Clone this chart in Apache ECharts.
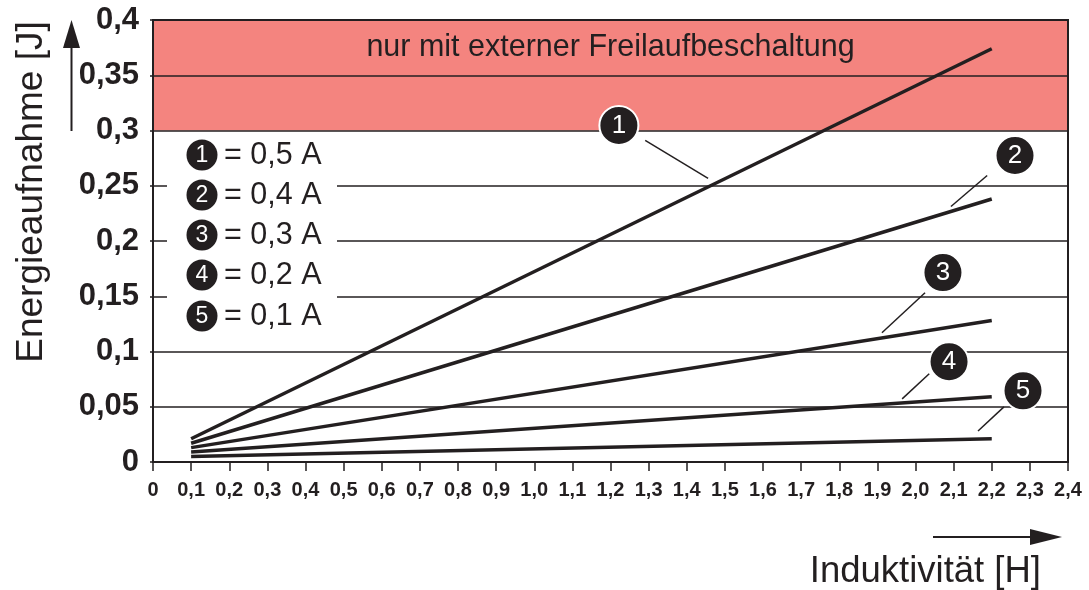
<!DOCTYPE html>
<html>
<head>
<meta charset="utf-8">
<script src="https://cdn.jsdelivr.net/npm/echarts@6/dist/echarts.min.js"></script>
<style>
html,body{margin:0;padding:0;background:#fff;}
#chart{width:1089px;height:590px;}
</style>
</head>
<body>
<div id="chart"></div>
<script>
// ---- data ----
const inductance = [0.1, 2.2];               // H
const energy05A = [0.021, 0.374];            // J, curve 1
const energy04A = [0.017, 0.238];            // curve 2
const energy03A = [0.013, 0.128];            // curve 3
const energy02A = [0.009, 0.059];            // curve 4
const energy01A = [0.005, 0.021];            // curve 5
const curveIds = ['1', '2', '3', '4', '5'];
const legendLabels = ['= 0,5 A', '= 0,4 A', '= 0,3 A', '= 0,2 A', '= 0,1 A'];
const xTickLabels = ['0','0,1','0,2','0,3','0,4','0,5','0,6','0,7','0,8','0,9','1,0','1,1','1,2','1,3','1,4','1,5','1,6','1,7','1,8','1,9','2,0','2,1','2,2','2,3','2,4'];
const yTickLabels = ['0','0,05','0,1','0,15','0,2','0,25','0,3','0,35','0,4'];
const bandLabel = 'nur mit externer Freilaufbeschaltung';
const bandFrom = 0.3, bandTo = 0.4;

// callout annotations (data coordinates)
const callouts = [
  {id:'1', at:[1.222, 0.3046], from:[1.291, 0.291], to:[1.456, 0.2566]},
  {id:'2', at:[2.261, 0.2774], from:[2.188, 0.2593], to:[2.093, 0.2312]},
  {id:'3', at:[2.072, 0.1714], from:[2.025, 0.1532], to:[1.912, 0.117]},
  {id:'4', at:[2.088, 0.0907], from:[2.036, 0.0798], to:[1.965, 0.0571]},
  {id:'5', at:[2.282, 0.0644], from:[2.232, 0.0499], to:[2.164, 0.0281]}
];

const INK = '#231f20';
const FONT = '"Liberation Sans", Arial, Helvetica, sans-serif';
const curves = [energy05A, energy04A, energy03A, energy02A, energy01A];

const chart = echarts.init(document.getElementById('chart'), null, {renderer:'canvas'});

const series = [];
// red band
series.push({
  type:'line', data:[], z:1, silent:true,
  markArea:{
    silent:true,
    itemStyle:{color:'#F4847F', opacity:1},
    label:{show:true, position:'insideTop', distance:12, color:INK, fontSize:30.5, fontFamily:FONT},
    data:[[{yAxis:bandFrom, name:bandLabel}, {yAxis:bandTo}]]
  }
});
curves.forEach((c, i) => {
  series.push({
    type:'line', name:curveIds[i], z:2,
    data: inductance.map((x, k) => [x, c[k]]),
    symbol:'none', lineStyle:{color:INK, width:3.5}, silent:true
  });
});
// leader lines
series.push({
  type:'lines', coordinateSystem:'cartesian2d', z:15, silent:true,
  lineStyle:{color:INK, width:1.5, opacity:1},
  data: callouts.map(c => ({coords:[c.from, c.to]}))
});
// callout circles
series.push({
  type:'scatter', z:20, silent:true,
  symbol:'circle', symbolSize:39,
  itemStyle:{color:INK, borderColor:'#fff', borderWidth:2, opacity:1},
  label:{show:true, position:'inside', color:'#fff', fontSize:26, fontFamily:FONT,
         formatter: p => p.data.name},
  data: callouts.map(c => ({name:c.id, value:c.at}))
});

// legend (graphic)
const legendRows = [155, 195, 235, 275, 316];
const graphics = [
  {type:'rect', z:10, silent:true, shape:{x:167, y:136, width:170, height:200}, style:{fill:'#fff'}}
];
legendRows.forEach((y, i) => {
  graphics.push({type:'circle', z:11, silent:true, shape:{cx:202, cy:y, r:15.5}, style:{fill:INK}});
  graphics.push({type:'text', z:12, silent:true, x:202, y:y+1,
    style:{text:curveIds[i], fill:'#fff', font:'23px ' + FONT, align:'center', verticalAlign:'middle'}});
  graphics.push({type:'text', z:12, silent:true, x:224, y:y+1,
    style:{text:legendLabels[i], fill:INK, font:'30.5px ' + FONT, align:'left', verticalAlign:'middle'}});
});
// axis names and arrows
graphics.push({type:'text', z:12, silent:true, x:32, y:192, rotation:Math.PI/2,
  style:{text:'Energieaufnahme [J]', fill:INK, font:'37px ' + FONT, align:'center', verticalAlign:'middle'}});
graphics.push({type:'text', z:12, silent:true, x:1041, y:572,
  style:{text:'Induktivität [H]', fill:INK, font:'36.5px ' + FONT, align:'right', verticalAlign:'middle'}});
graphics.push({type:'line', z:12, silent:true, shape:{x1:71.5, y1:131, x2:71.5, y2:40}, style:{stroke:INK, lineWidth:2}});
graphics.push({type:'polygon', z:12, silent:true, shape:{points:[[71.5,20],[63,48],[80,48]]}, style:{fill:INK}});
graphics.push({type:'line', z:12, silent:true, shape:{x1:933, y1:537, x2:1040, y2:537}, style:{stroke:INK, lineWidth:2}});
graphics.push({type:'polygon', z:12, silent:true, shape:{points:[[1062,537],[1030,529],[1030,545]]}, style:{fill:INK}});

chart.setOption({
  animation:false,
  backgroundColor:'#fff',
  grid:{left:153, right:21, top:20, bottom:128, show:true, borderColor:INK, borderWidth:2, backgroundColor:'transparent', z:3},
  xAxis:{
    type:'value', min:0, max:2.4, interval:0.1, z:3,
    axisLine:{show:true, lineStyle:{color:INK, width:2}},
    axisTick:{show:true, length:9, lineStyle:{color:INK, width:1.5}},
    splitLine:{show:false},
    axisLabel:{color:INK, fontSize:20, fontWeight:'bold', fontFamily:FONT, margin:18,
      formatter:(v) => xTickLabels[Math.round(v/0.1)]}
  },
  yAxis:{
    type:'value', min:0, max:0.4, interval:0.05, z:3,
    axisLine:{show:true, lineStyle:{color:INK, width:2}},
    axisTick:{show:true, length:3, lineStyle:{color:INK, width:1.5}},
    splitLine:{show:true, lineStyle:{color:INK, width:1.5}},
    axisLabel:{color:INK, fontSize:31, fontWeight:'bold', fontFamily:FONT, margin:14,
      formatter:(v) => yTickLabels[Math.round(v/0.05)]}
  },
  series:series,
  graphic:{elements:graphics}
});
</script>
</body>
</html>
